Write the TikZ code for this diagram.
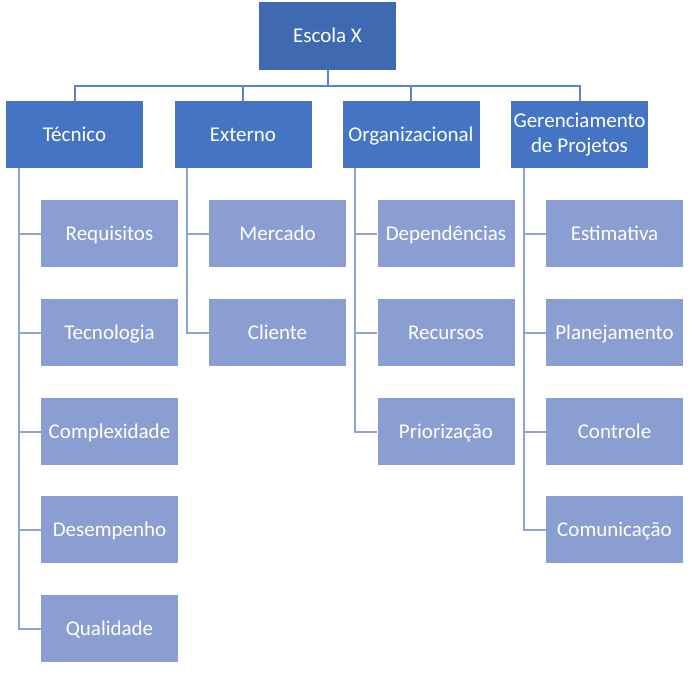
\documentclass[tikz,border=0pt]{standalone}
\usepackage{fontspec}
\setmainfont{Carlito}
\definecolor{topc}{HTML}{3F69B0}
\definecolor{lvlone}{HTML}{4674C4}
\definecolor{lvltwo}{HTML}{8A9ED1}
\definecolor{linetop}{HTML}{5B85C9}
\definecolor{linesub}{HTML}{8EA2D6}
\begin{document}
\begin{tikzpicture}[x=1pt,y=-1pt,
  basebox/.style={rectangle, minimum width=137pt, minimum height=67pt, inner sep=1pt, text=white, align=center, font=\fontsize{21}{24.5}\selectfont},
  box/.style={basebox, text height=15.75pt, text depth=2.75pt},
  rootbox/.style={box, fill=topc, minimum height=68pt},
  headbox/.style={box, fill=lvlone},
  twolinebox/.style={basebox, fill=lvlone},
  itembox/.style={box, fill=lvltwo},
  topline/.style={draw=linetop, line width=2pt},
  subline/.style={draw=linesub, line width=2pt}]
\useasboundingbox (0,0) rectangle (700,673);
\node[rootbox] (root) at (327.5,36) {Escola X};
\node[headbox] (h1) at (74.5,134.5) {Técnico};
\node[headbox] (h2) at (243,134.5) {Externo};
\node[headbox] (h3) at (411,134.5) {Organizacional};
\node[twolinebox] (h4) at (579.5,134.5) {Gerenciamento\\de Projetos};
% level 2
\node[itembox] (a1) at (109.5,233.5) {Requisitos};
\node[itembox] (a2) at (109.5,332.5) {Tecnologia};
\node[itembox] (a3) at (109.5,431.5) {Complexidade};
\node[itembox] (a4) at (109.5,529.5) {Desempenho};
\node[itembox] (a5) at (109.5,628.5) {Qualidade};
\node[itembox] (b1) at (277.5,233.5) {Mercado};
\node[itembox] (b2) at (277.5,332.5) {Cliente};
\node[itembox] (c1) at (446,233.5) {Dependências};
\node[itembox] (c2) at (446,332.5) {Recursos};
\node[itembox] (c3) at (446,431.5) {Priorização};
\node[itembox] (d1) at (614.5,233.5) {Estimativa};
\node[itembox] (d2) at (614.5,332.5) {Planejamento};
\node[itembox] (d3) at (614.5,431.5) {Controle};
\node[itembox] (d4) at (614.5,529.5) {Comunicação};
% top connectors
\coordinate (bus) at (0,85.5);
\draw[topline] (root.south) -- (root.south |- bus);
\draw[topline] (h1.north) -- (h1.north |- bus) -- (h4.north |- bus) -- (h4.north);
\draw[topline] (h2.north) -- (h2.north |- bus);
\draw[topline] (h3.north) -- (h3.north |- bus);
% sub connectors
\foreach \h/\last/\list in {h1/a5/{a1,a2,a3,a4,a5}, h2/b2/{b1,b2}, h3/c3/{c1,c2,c3}, h4/d4/{d1,d2,d3,d4}}{
  \coordinate (\h-x) at ([xshift=13pt]\h.south west);
  \draw[subline] (\h-x) -- (\h-x |- \last.west) -- (\last.west);
  \foreach \c in \list {
    \draw[subline] (\h-x |- \c.west) -- (\c.west);
  }
}
\end{tikzpicture}
\end{document}
